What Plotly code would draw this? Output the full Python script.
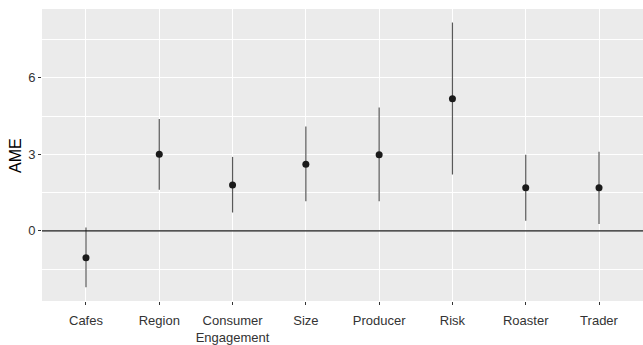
import plotly.graph_objects as go

categories = ["Cafes", "Region", "Consumer<br>Engagement", "Size", "Producer", "Risk", "Roaster", "Trader"]
ame = [-1.05, 3.00, 1.80, 2.61, 2.98, 5.18, 1.69, 1.69]
upper = [0.13, 4.39, 2.90, 4.09, 4.84, 8.17, 2.98, 3.10]
lower = [-2.21, 1.61, 0.72, 1.16, 1.16, 2.21, 0.40, 0.27]

err_plus = [u - m for u, m in zip(upper, ame)]
err_minus = [m - l for m, l in zip(ame, lower)]

fig = go.Figure()
fig.add_hline(y=0, line=dict(color="#1a1a1a", width=1.1), layer="above")
fig.add_trace(go.Scatter(
    x=categories, y=ame, mode="markers",
    marker=dict(color="#1a1a1a", size=7),
    error_y=dict(type="data", symmetric=False, array=err_plus, arrayminus=err_minus,
                 width=0, thickness=1.2, color="#595959"),
    showlegend=False,
))

fig.add_annotation(
    text="AME", textangle=-90, xref="paper", yref="paper",
    x=-0.045, y=0.5, xanchor="center", yanchor="middle", showarrow=False,
    font=dict(size=16, color="black"),
)

fig.update_layout(
    width=643, height=345,
    margin=dict(l=42, r=0, t=9, b=44),
    paper_bgcolor="white", plot_bgcolor="#EBEBEB",
    font=dict(family="Liberation Sans, Arial, sans-serif", size=13, color="#4D4D4D"),
    xaxis=dict(
        type="category", range=[-0.6, 7.6], automargin=False,
        showgrid=True, gridcolor="white", gridwidth=1.1,
        ticks="outside", ticklen=3, tickcolor="#333333", tickwidth=1,
        tickfont=dict(size=13, color="#333333"), ticklabelstandoff=4,
        zeroline=False, showline=False,
    ),
    yaxis=dict(
        range=[-2.75, 8.7], automargin=False,
        tickvals=[0, 3, 6], ticktext=["0", "3", "6"],
        showgrid=True, gridcolor="white", gridwidth=1.1,
        minor=dict(tickvals=[-1.5, 1.5, 4.5, 7.5], showgrid=True, gridcolor="white", gridwidth=0.5, ticks=""),
        ticks="outside", ticklen=3, tickcolor="#333333", tickwidth=1,
        tickfont=dict(size=13, color="#333333"),
        zeroline=False, showline=False,
    ),
)

fig.write_html("out.html", config={"displayModeBar": False},
               post_script="document.body.style.margin='0';")
